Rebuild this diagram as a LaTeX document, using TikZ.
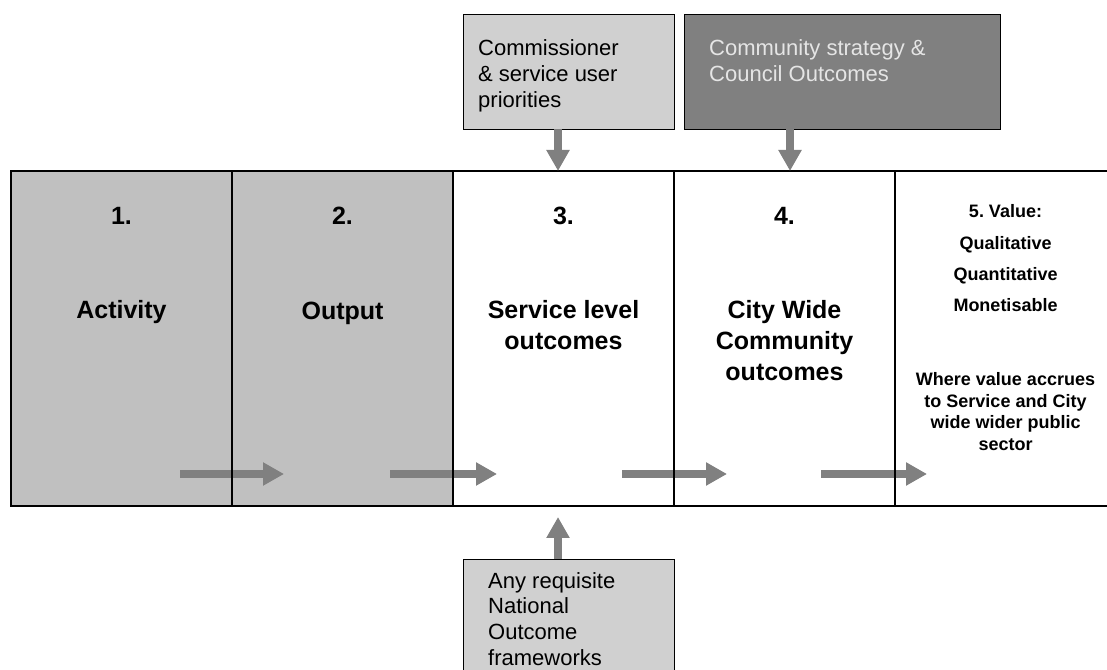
\documentclass[tikz,border=0pt]{standalone}
\usepackage{fontspec}
\setmainfont{Liberation Sans}
\usepackage{xcolor}
\usepackage{tikz}
\usetikzlibrary{arrows.meta, positioning}
\definecolor{stagegray}{RGB}{192,192,192}
\definecolor{lightbox}{RGB}{208,208,208}
\definecolor{darkbox}{RGB}{128,128,128}
\definecolor{flowgray}{RGB}{128,128,128}
\tikzset{
  x=1pt, y=1pt, % one unit is one pixel of the layout
  stage/.style={draw, line width=1.5pt, minimum width=221pt,
    minimum height=335pt, inner sep=0pt, outer sep=0pt}, % one column
  divider/.style={line width=1.5pt}, % lines between the columns
  stagenum/.style={font=\fontsize{25}{31}\selectfont\bfseries, inner sep=0pt},
  stagelabel/.style={font=\fontsize{25}{31}\selectfont\bfseries,
    align=center, inner sep=0pt},
  valuetext/.style={font=\fontsize{18}{31.3}\selectfont\bfseries,
    align=center, inner sep=0pt},
  valuenote/.style={font=\fontsize{18}{21.7}\selectfont\bfseries,
    align=center, inner sep=0pt},
  driver/.style={draw, line width=0.8pt, minimum height=115pt,
    inner sep=0pt, outer sep=0pt}, % boxes feeding the chain
  drivertext/.style={font=\fontsize{22}{25.7}\selectfont, align=left,
    inner sep=0pt},
  flow/.style={flowgray, line width=8.5pt,
    -{Triangle[width=22pt,length=21pt]}}, % thick grey arrows
}

\begin{document}
\frenchspacing
\begin{tikzpicture}
  \useasboundingbox (0,0) rectangle (1107,669);

  % the five stages
  \node[stage, fill=stagegray] (activity) at (121.5,330.5) {};
  \node[stage, fill=stagegray, right=0pt of activity] (output) {};
  \node[stage, fill=white, right=0pt of output] (service) {};
  \node[stage, fill=white, right=0pt of service] (city) {};
  \node[stage, fill=white, right=0pt of city] (value) {};

  \node[stagenum, below=36pt of activity.north] (activity-n) {1.};
  \node[stagelabel, below=129pt of activity.north] (activity-l) {Activity};
  \node[stagenum, below=36pt of output.north] (output-n) {2.};
  \node[stagelabel, below=130.5pt of output.north] (output-l) {Output};
  \node[stagenum, below=36pt of service.north] (service-n) {3.};
  \node[stagelabel, below=129pt of service.north] (service-l)
    {Service level\\outcomes};
  \node[stagenum, below=36pt of city.north] (city-n) {4.};
  \node[stagelabel, below=129pt of city.north] (city-l)
    {City Wide\\Community\\outcomes};
  \node[valuetext, below=33.6pt of value.north] (value-l)
    {5. Value:\\Qualitative\\Quantitative\\Monetisable};
  \node[valuenote, below=60pt of value-l] (value-n)
    {Where value accrues\\to Service and City\\wide wider public\\sector};

  % boxes above and below
  \node[driver, fill=lightbox, minimum width=211pt] (commish) at (568.5,597.5) {};
  \node[drivertext, below right=25.5pt and 15pt of commish.north west] (commish-t)
    {Commissioner\\\& service user\\priorities};
  \node[driver, fill=darkbox, minimum width=316pt] (strategy) at (842,597.5) {};
  \node[drivertext, text=white!90!black,
    below right=25.5pt and 25pt of strategy.north west] (strategy-t)
    {Community strategy \&\\Council Outcomes};
  \node[driver, fill=lightbox, minimum width=211pt, minimum height=130pt]
    (national) at (568.5,45) {};
  \node[drivertext, below right=13pt and 25pt of national.north west] (national-t)
    {Any requisite\\National\\Outcome\\frameworks};

  \coordinate (service-in) at ([xshift=-5.5pt]service.north);
  \coordinate (city-in) at ([xshift=5.5pt]city.north);
  \coordinate (service-up) at ([shift={(-5.5pt,-11pt)}]service.south);

  \draw[flow] (commish.south -| service-in) -- (service-in);
  \draw[flow] (strategy.south -| city-in) -- (city-in);
  \draw[flow] (national.north -| service-up) -- (service-up);

  % flow along the chain
  \draw[flow] ([shift={(-52pt,32pt)}]activity.south east)
    -- ([shift={(52pt,32pt)}]activity.south east);
  \draw[flow] ([shift={(-63pt,32pt)}]output.south east)
    -- ([shift={(44pt,32pt)}]output.south east);
  \draw[flow] ([shift={(-52pt,32pt)}]service.south east)
    -- ([shift={(53pt,32pt)}]service.south east);
  \draw[flow] ([shift={(-74pt,32pt)}]city.south east)
    -- ([shift={(32pt,32pt)}]city.south east);

  \draw[divider]
    (activity.north east) -- (activity.south east)
    (output.north east) -- (output.south east)
    (service.north east) -- (service.south east)
    (city.north east) -- (city.south east);

\end{tikzpicture}
\end{document}
